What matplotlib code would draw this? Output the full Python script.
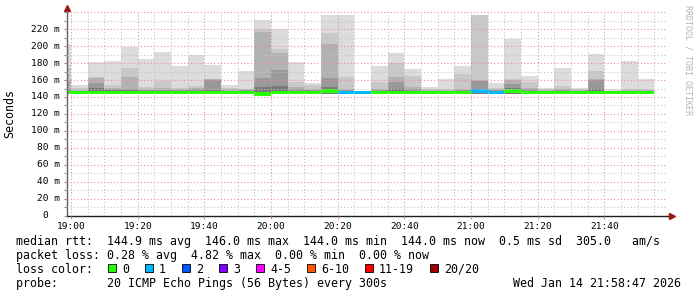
import matplotlib
matplotlib.use("Agg")
import matplotlib.pyplot as plt
import matplotlib.dates as mdates
import matplotlib.transforms as mtransforms
from matplotlib.patches import Rectangle
import pandas as pd
import numpy as np

# 5 minute intervals (left edge), 20 pings each
times = pd.date_range("2026-01-14 18:55", periods=36, freq="5min")

# smoke levels in ms, outer (lightest) to inner (darkest)
smoke_max = [203, 154, 181, 182, 199, 185, 193, 177, 190, 178, 154, 171,
             231, 220, 181, 157, 237, 237, 147, 177, 192, 173, 152, 161,
             177, 237, 156, 208, 165, 151, 174, 151, 191, 149, 183, 161]
smoke_q1 = [174, 151, 164, 154, 174, 152, 159, 151, 153, 161, 151, 150,
            220, 197, 158, 154, 215, 164, 146, 158, 180, 165, 150, 149,
            167, 237, 151, 161, 158, 149, 153, 149, 171, 147, 150, 149]
smoke_q2 = [160, 148, 162, 151, 163, 150, 151, 149, 151, 161, 149, 149,
            217, 192, 152, 150, 203, 150, 146, 150, 163, 152, 148, 148,
            149, 160, 149, 160, 151, 148, 150, 148, 161, 147, 148, 148]
smoke_q3 = [150, 147, 157, 150, 150, 148, 148, 148, 149, 160, 147, 148,
            162, 172, 149, 148, 162, 148, 146, 148, 158, 149, 147, 147,
            148, 159, 148, 155, 149, 147, 148, 147, 160, 146, 147, 147]
smoke_q4 = [147, 146, 151, 148, 148, 147, 147, 147, 147, 148, 146, 147,
            152, 153, 147, 147, 152, 147, 146, 147, 150, 147, 146, 146,
            147, 150, 147, 151, 147, 146, 147, 146, 149, 146, 146, 146]
smoke_min = 144

median = [145.2, 145.2, 145.2, 145.2, 145.2, 145.2, 145.2, 145.2, 145.2, 145.2, 145.2, 145.2,
          143.5, 145.2, 145.2, 145.2, 147.0, 145.2, 145.2, 145.2, 145.2, 145.2, 145.2, 145.2,
          145.2, 147.0, 145.2, 147.0, 145.2, 145.2, 145.2, 145.2, 145.2, 145.2, 145.2, 145.2]
loss = [0, 0, 0, 0, 0, 0, 0, 0, 0, 0, 0, 0,
        0, 0, 0, 0, 0, 1, 1, 0, 0, 0, 0, 0,
        0, 1, 1, 0, 0, 0, 0, 0, 0, 0, 0, 0]

loss_labels = ["0", "1", "2", "3", "4-5", "6-10", "11-19", "20/20"]
loss_colors = ["#26ff00", "#00b8ff", "#0059ff", "#7e00ff", "#ff00ff", "#ff5500", "#ff0000", "#a10000"]
loss_index = {0: 0, 1: 1, 2: 2, 3: 3}

rtt_line = "median rtt:  144.9 ms avg  146.0 ms max  144.0 ms min  144.0 ms now  0.5 ms sd  305.0   am/s"
loss_line = "packet loss: 0.28 % avg  4.82 % max  0.00 % min  0.00 % now"
probe_line = "probe:       20 ICMP Echo Pings (56 Bytes) every 300s"
stamp = "Wed Jan 14 21:58:47 2026"

W, H = 697, 297
mono = "DejaVu Sans Mono"
fig = plt.figure(figsize=(W / 100, H / 100), dpi=100, facecolor="white")
ax = fig.add_axes([67 / W, 1 - 215.7 / H, 600 / W, 203.5 / H])

x = mdates.date2num(times.to_pydatetime())
bw = 5 / 1440
shades = ["#dcdcdc", "#c8c8c8", "#b2b2b2", "#999999", "#7a7a7a"]
for lvl, c in zip([smoke_max, smoke_q1, smoke_q2, smoke_q3, smoke_q4], shades):
    ax.bar(x, np.array(lvl) - smoke_min, bottom=smoke_min, width=bw, align="edge",
           color=c, linewidth=0, zorder=1)

med = np.array(median)
ax.bar(x, 3.9, bottom=med - 1.95, width=bw, align="edge", linewidth=0, zorder=2,
       color=[loss_colors[loss_index[l]] for l in loss])

t0 = pd.Timestamp("2026-01-14 18:58:47")
t1 = pd.Timestamp("2026-01-14 21:58:47")
ax.set_xlim(mdates.date2num(t0), mdates.date2num(t1))
ax.set_ylim(0, 240)

ax.xaxis.set_major_locator(mdates.MinuteLocator(byminute=[0, 20, 40]))
ax.xaxis.set_minor_locator(mdates.MinuteLocator(byminute=range(0, 60, 5)))
ax.xaxis.set_major_formatter(mdates.DateFormatter("%H:%M"))
ax.set_yticks(range(0, 241, 20))
ax.set_yticks(range(0, 241, 10), minor=True)
ax.tick_params(axis="x", which="major", length=2, width=0.8, color="#e08080",
               pad=2.5, labelsize=6.8)
ax.tick_params(axis="x", which="minor", length=0)
ax.tick_params(axis="y", which="both", length=2.5, width=0.8, color="#909090", labelleft=False)
for lab in ax.get_xticklabels():
    lab.set_fontfamily(mono)

ax.grid(True, which="minor", color="#c4c4c4", linestyle=(0, (1, 2)), linewidth=0.8, zorder=3)
ax.grid(True, which="major", color="#e89494", linestyle=(0, (1, 2)), linewidth=0.8, zorder=3)
ax.set_axisbelow(False)

# y labels drawn by hand so the "0" sits like rrdtool's
ytr = mtransforms.blended_transform_factory(fig.transFigure, ax.transData)
for v in range(0, 221, 20):
    if v == 0:
        ax.text(48.5 / W, v, "0", transform=ytr, ha="right", va="center",
                fontsize=6.8, family=mono)
    else:
        ax.text(59.5 / W, v, f"{v} m", transform=ytr, ha="right", va="center",
                fontsize=6.8, family=mono)

for s in ["top", "right"]:
    ax.spines[s].set_visible(False)
ax.spines["left"].set_color("#606060")
ax.spines["bottom"].set_color("#202020")
ax.spines["left"].set_linewidth(1)
ax.spines["bottom"].set_linewidth(1)
ax.plot([1, 1.008], [0, 0], transform=ax.transAxes, clip_on=False, color="#202020", lw=1)
ax.plot([1.008], [0], transform=ax.transAxes, clip_on=False, marker=">", ms=4,
        color="#a01818", mec="#a01818")
ax.plot([0, 0], [1, 1.02], transform=ax.transAxes, clip_on=False, color="#606060", lw=1)
ax.plot([0], [1.02], transform=ax.transAxes, clip_on=False, marker="^", ms=4,
        color="#a01818", mec="#a01818")

fig.text(10 / W, 1 - 114 / H, "Seconds", rotation=90, ha="center", va="center",
         fontsize=8.4, family=mono)
fig.text(688 / W, 1 - 60 / H, "RRDTOOL / TOBI OETIKER", rotation=270, ha="center",
         va="center", fontsize=6.0, family=mono, color="#b4b4b4")

fs = 8.4
fig.text(16 / W, 1 - 241 / H, rtt_line, ha="left", va="center", fontsize=fs, family=mono)
fig.text(16 / W, 1 - 255.5 / H, loss_line, ha="left", va="center", fontsize=fs, family=mono)
fig.text(16 / W, 1 - 269.5 / H, "loss color:", ha="left", va="center", fontsize=fs, family=mono)
fig.text(16 / W, 1 - 283.5 / H, probe_line, ha="left", va="center", fontsize=fs, family=mono)
fig.text(681 / W, 1 - 283.5 / H, stamp, ha="right", va="center", fontsize=fs, family=mono)

cx = 108.3
for lab, col in zip(loss_labels, loss_colors):
    fig.add_artist(Rectangle((cx / W, 1 - 272.3 / H), 8 / W, 8 / H, transform=fig.transFigure,
                             facecolor=col, edgecolor="black", linewidth=0.6))
    fig.text((cx + 13.7) / W, 1 - 269.5 / H, lab, ha="left", va="center", fontsize=fs, family=mono)
    cx += 30 + 7 * len(lab)

fig.savefig("out.png", dpi=100, facecolor="white")
